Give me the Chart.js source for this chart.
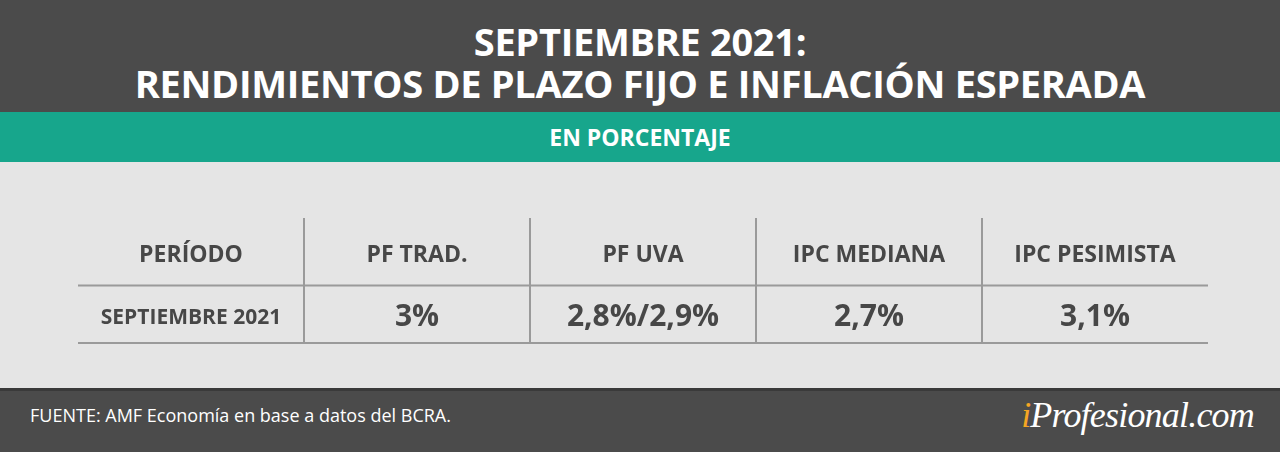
<!DOCTYPE html>
<html><head><meta charset="utf-8">
<script src="https://cdn.jsdelivr.net/npm/chart.js@4"></script>
<style>
html,body{margin:0;padding:0;width:1280px;height:452px;overflow:hidden;font-family:"Open Sans",sans-serif}
#top{position:absolute;left:0;top:0;width:1280px;height:112px;background:#4b4b4b;color:#fff;text-align:center;font-weight:700;font-size:38px;line-height:42px;padding-top:20px;box-sizing:border-box;letter-spacing:-0.3px}
#band{position:absolute;left:0;top:112px;width:1280px;height:50px;background:#17a68c;color:#fff;text-align:center;font-weight:700;font-size:23px;line-height:50px}
#mid{position:absolute;left:0;top:162px;width:1280px;height:226px;background:#e5e5e5}
#foot{position:absolute;left:0;top:388px;width:1280px;height:64px;background:#4b4b4b;border-top:3px solid #3a3a3a;box-sizing:border-box}
#src{position:absolute;left:30px;top:403px;color:#fff;font-size:18px}
#logo{position:absolute;right:26px;top:394px;color:#fff;font-family:"Liberation Serif",serif;font-style:italic;font-size:36px;letter-spacing:-0.8px}
#logo b{color:#f5a623;font-weight:400}
#wrap{position:absolute;left:78px;top:218px;width:1130px;height:126px}
</style></head><body>
<div id="top">SEPTIEMBRE 2021:<br>RENDIMIENTOS DE PLAZO FIJO E INFLACIÓN ESPERADA</div>
<div id="band">EN PORCENTAJE</div>
<div id="mid"></div>
<div id="wrap"><canvas id="c"></canvas></div>
<div id="foot"></div>
<div id="src">FUENTE: AMF Economía en base a datos del BCRA.</div>
<div id="logo"><b>i</b>Profesional.com</div>
<script>
const columns=["PERÍODO","PF TRAD.","PF UVA","IPC MEDIANA","IPC PESIMISTA"];
const rows=["HEADER","SEPTIEMBRE 2021"];
const values=["3%","2,8%/2,9%","2,7%","3,1%"];

const tablePlugin={id:'table',afterDraw(ch){
  const c=ch.ctx,x=ch.scales.x,a=ch.chartArea;
  const n=columns.length,w=(a.right-a.left)/n;
  const headY=a.top+(a.bottom-a.top)*0.30, rowY=a.top+(a.bottom-a.top)*0.79;
  const lineY=a.top+(a.bottom-a.top)*0.535;
  c.save();c.strokeStyle='#9a9a9a';c.lineWidth=2;
  c.beginPath();c.moveTo(a.left,lineY);c.lineTo(a.right,lineY);
  c.moveTo(a.left,a.bottom-1);c.lineTo(a.right,a.bottom-1);
  for(let i=1;i<n;i++){const xx=x.getPixelForValue(i)-w/2;c.moveTo(xx,a.top);c.lineTo(xx,a.bottom);}
  c.stroke();
  c.fillStyle='#474747';c.textAlign='center';c.textBaseline='middle';
  columns.forEach((t,i)=>{c.font='700 23px "Open Sans"';c.fillText(t,x.getPixelForValue(i),headY);});
  c.font='700 21px "Open Sans"';c.fillText(rows[1],x.getPixelForValue(0),rowY);
  c.font='700 30px "Open Sans"';
  values.forEach((t,i)=>c.fillText(t,x.getPixelForValue(i+1),rowY));
  c.restore();
}};
new Chart(document.getElementById('c'),{type:'scatter',
 data:{labels:columns,datasets:[{data:[]}]},
 options:{responsive:true,maintainAspectRatio:false,animation:false,
  layout:{padding:0},
  plugins:{legend:{display:false},tooltip:{enabled:false}},
  scales:{x:{type:'category',labels:columns,offset:true,display:false},
          y:{display:false,min:0,max:1}}},
 plugins:[tablePlugin]});
</script>
</body></html>
